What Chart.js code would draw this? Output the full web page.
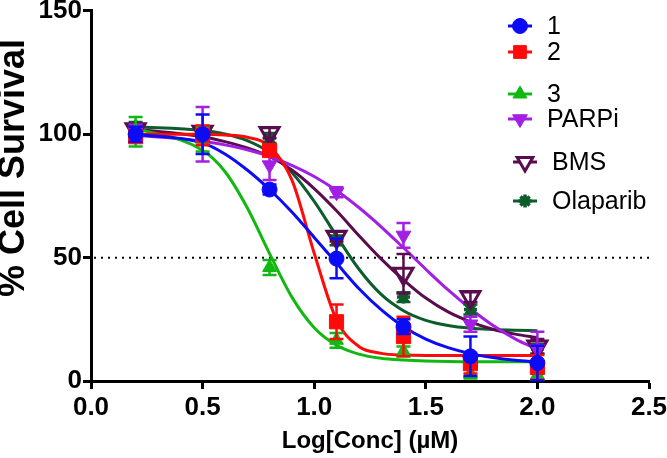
<!DOCTYPE html>
<html>
<head>
<meta charset="utf-8">
<script src="https://cdn.jsdelivr.net/npm/chart.js@4.4.1/dist/chart.umd.min.js"></script>
<style>
  html, body { margin: 0; padding: 0; background: #fff; }
  #wrap { width: 667px; height: 458px; }
</style>
</head>
<body>
<div id="wrap"><canvas id="myChart" width="667" height="458"></canvas></div>
<script>
// Log dawki (µM) dla punktów pomiarowych
const doses = [0.2, 0.5, 0.8, 1.1, 1.4, 1.7, 2.0];
// Punkty, przez które przechodzi krzywa dopasowania
const curveDoses = [0.2, 0.5, 0.6, 0.7, 0.8, 0.9, 1.0, 1.1, 1.2, 1.3, 1.4, 1.5, 1.6, 1.7, 1.8, 1.9, 2.0];

const seriesNames = ["1", "2", "3", "PARPi", "BMS", "Olaparib"];

// Średnie
const mean1 = [100, 100, 77.6, 49.6, 22, 10, 7.3];
const mean2 = [99, 99.5, 93.4, 24, 18, 7, 5.5];
const mean3 = [101, 98, 46, 16.5, 12, 3, 2.5];
const meanParpi = [101, 100, 87.5, 76.5, 59, 23, 13];
const meanBms = [102, 101, 100.5, 58.5, 43.5, 34, 14];
const meanOlaparib = [103, 101, 98.5, 57, 34, 29, 13];

// Błędy (SEM)
const sem1 = [3, 8, 2, 8, 3, 8, 7];
const sem2 = [2, 4, 2, 7, 8, 4, 5];
const sem3 = [6, 5, 3, 3, 2, 2, 2];
const semParpi = [3, 11, 6, 2, 5, 3, 7];
const semBms = [2, 2, 2, 2, 8, 2, 3];
const semOlaparib = [2, 2, 2, 2, 2, 2, 2];

// Krzywe dopasowania
const fit1 = [100, 96.5, 92, 85.5, 77.6, 68.5, 58.2, 47.8, 37.5, 28.9, 22, 17, 13.5, 11.1, 9.5, 8.4, 7.7];
const fit2 = [100, 100, 99.7, 98.8, 95.1, 81.5, 51.8, 24.8, 14, 11.2, 10.5, 10.3, 10.3, 10.3, 10.3, 10.3, 10.3];
const fit3 = [102.5, 93.5, 84.9, 70.2, 51.6, 34, 21.6, 14.5, 10.9, 9.2, 8.5, 8.1, 7.9, 7.8, 7.8, 7.8, 7.8];
const fitParpi = [99.6, 97.2, 95.7, 93.7, 91, 87.4, 82.9, 77.2, 70.3, 62.5, 54, 45.3, 36.9, 29.3, 22.6, 17.1, 12.8];
const fitBms = [102, 99, 97, 94.5, 91, 85.5, 78, 69, 59, 49.5, 41, 33.6, 28, 24, 21, 19, 17.6];
const fitOlaparib = [103, 101.5, 100.1, 97.4, 92.6, 84.5, 72.8, 58.8, 45.4, 35.1, 28.5, 24.6, 22.5, 21.4, 20.9, 20.6, 20.4];

const means = [mean1, mean2, mean3, meanParpi, meanBms, meanOlaparib];
const sems = [sem1, sem2, sem3, semParpi, semBms, semOlaparib];
const fits = [fit1, fit2, fit3, fitParpi, fitBms, fitOlaparib];

const colors = ["#0b0bf5", "#ff0a0a", "#12b812", "#a21fe3", "#5a0d4e", "#0c5c2c"];
const markers = [
  { style: "circle", radius: 7.5, rotation: 0, fill: true, width: 1 },
  { style: "rect", radius: 10, rotation: 0, fill: true, width: 1 },
  { style: "triangle", radius: 8, rotation: 0, fill: true, width: 1 },
  { style: "triangle", radius: 8.5, rotation: 180, fill: true, width: 1 },
  { style: "triangle", radius: 11, rotation: 180, fill: false, width: 3 },
  { style: "star", radius: 6.5, rotation: 0, fill: true, width: 3.5 },
];

const FONT = '"Liberation Sans", Arial, Helvetica, sans-serif';

// Budowanie zbiorów danych
const datasets = [];
seriesNames.forEach((name, s) => {
  const m = markers[s];
  datasets.push({
    label: name,
    data: doses.map((x, i) => ({ x: x, y: means[s][i] })),
    showLine: false,
    pointStyle: m.style,
    pointRadius: m.radius,
    pointHoverRadius: m.radius,
    pointRotation: m.rotation,
    backgroundColor: m.fill ? colors[s] : "rgba(255,255,255,0)",
    borderColor: colors[s],
    pointBorderWidth: m.width,
    order: 0,
    isPoints: true,
    seriesIndex: s,
  });
});
seriesNames.forEach((name, s) => {
  datasets.push({
    label: name + " fit",
    data: curveDoses.map((x, i) => ({ x: x, y: fits[s][i] })),
    showLine: true,
    borderColor: colors[s],
    borderWidth: 3,
    pointRadius: 0,
    cubicInterpolationMode: "monotone",
    fill: false,
    order: 1,
  });
});

// Wtyczka: linia 50%, słupki błędów, legenda, tytuły osi
const extrasPlugin = {
  id: "extras",
  beforeDatasetsDraw(chart) {
    const { ctx, chartArea, scales } = chart;
    const y50 = scales.y.getPixelForValue(50);
    ctx.save();
    ctx.strokeStyle = "#000";
    ctx.lineWidth = 2;
    ctx.setLineDash([2, 5]);
    ctx.beginPath();
    ctx.moveTo(chartArea.left + 3, y50);
    ctx.lineTo(chartArea.right, y50);
    ctx.stroke();
    ctx.restore();
  },
  beforeDatasetDraw(chart, args) {
    const ds = chart.data.datasets[args.index];
    if (!ds.isPoints) return;
    const s = ds.seriesIndex;
    const { ctx, scales } = chart;
    ctx.save();
    ctx.strokeStyle = colors[s];
    ctx.lineWidth = 2.5;
    doses.forEach((x, i) => {
      const px = scales.x.getPixelForValue(x);
      const top = scales.y.getPixelForValue(means[s][i] + sems[s][i]);
      const bot = scales.y.getPixelForValue(Math.max(0, means[s][i] - sems[s][i]));
      ctx.beginPath();
      ctx.moveTo(px, top); ctx.lineTo(px, bot);
      ctx.moveTo(px - 7, top); ctx.lineTo(px + 7, top);
      ctx.moveTo(px - 7, bot); ctx.lineTo(px + 7, bot);
      ctx.stroke();
    });
    ctx.restore();
  },
  afterDraw(chart) {
    const { ctx, chartArea } = chart;
    // Legenda
    const rows = [26, 52, 94, 119, 162, 201];
    const xs = [520, 520, 520, 520, 525, 525];
    const tx = [547, 547, 547, 547, 552, 552];
    ctx.save();
    seriesNames.forEach((name, s) => {
      const m = markers[s];
      ctx.strokeStyle = colors[s];
      ctx.lineWidth = 3;
      ctx.beginPath();
      ctx.moveTo(xs[s] - 12, rows[s]);
      ctx.lineTo(xs[s] + 12, rows[s]);
      ctx.stroke();
      ctx.fillStyle = m.fill ? colors[s] : "#fff";
      ctx.lineWidth = m.width;
      Chart.helpers.drawPoint(ctx, {
        pointStyle: m.style, radius: Math.min(m.radius, 9), rotation: m.rotation, borderWidth: m.width,
      }, xs[s], rows[s]);
      ctx.fillStyle = "#000";
      ctx.font = "25px " + FONT;
      ctx.textAlign = "left";
      ctx.textBaseline = "middle";
      ctx.fillText(name, tx[s], rows[s] + 1);
    });

    // Tytuły osi
    ctx.fillStyle = "#000";
    ctx.font = "bold 24px " + FONT;
    ctx.textAlign = "center";
    ctx.textBaseline = "middle";
    ctx.fillText("Log[Conc] (\u00B5M)", (chartArea.left + chartArea.right) / 2, 441);

    ctx.translate(14, 168);
    ctx.rotate(-Math.PI / 2);
    ctx.font = "bold 36px " + FONT;
    ctx.fillText("% Cell Survival", 0, 0);
    ctx.restore();
  },
};

const ctx = document.getElementById("myChart").getContext("2d");

const myChart = new Chart(ctx, {
  type: "scatter",
  data: { datasets: datasets },
  plugins: [extrasPlugin],
  options: {
    responsive: false,
    animation: false,
    devicePixelRatio: 1,
    layout: { autoPadding: false, padding: { top: 10, right: 18, left: 0, bottom: 0 } },
    plugins: {
      legend: { display: false },
      tooltip: { enabled: false },
    },
    scales: {
      x: {
        type: "linear",
        min: 0,
        max: 2.5,
        afterFit: (s) => { s.height = 77; s.paddingRight = 0; },
        ticks: {
          stepSize: 0.5,
          color: "#000",
          padding: 3,
          maxRotation: 0,
          autoSkip: false,
          font: { family: FONT, size: 26, weight: "bold" },
          callback: (v) => Number(v).toFixed(1),
        },
        grid: {
          display: true,
          drawOnChartArea: false,
          drawTicks: true,
          tickLength: 8,
          tickWidth: 3,
          tickColor: "#000",
        },
        border: { display: true, color: "#000", width: 3 },
      },
      y: {
        min: 0,
        max: 150,
        afterFit: (s) => { s.width = 91; },
        ticks: {
          stepSize: 50,
          color: "#000",
          padding: 1,
          font: { family: FONT, size: 26, weight: "bold", lineHeight: 0.76 },
        },
        grid: {
          display: true,
          drawOnChartArea: false,
          drawTicks: true,
          tickLength: 8,
          tickWidth: 3,
          tickColor: "#000",
        },
        border: { display: true, color: "#000", width: 3 },
      },
    },
  },
});
</script>
</body>
</html>
